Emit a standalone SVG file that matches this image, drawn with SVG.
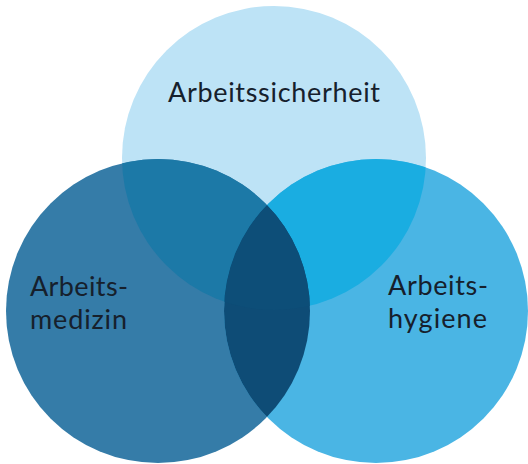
<svg xmlns="http://www.w3.org/2000/svg" width="528" height="464" viewBox="0 0 528 464">
<style>
.lbl{font-family:Lato,"Open Sans","Liberation Sans",sans-serif;font-size:27px;fill:#16202c}
</style>
<defs>
<clipPath id="cTop"><circle cx="274" cy="158" r="152"/></clipPath>
<clipPath id="cLeft"><circle cx="158" cy="311" r="152"/></clipPath>
<clipPath id="cRight"><circle cx="376" cy="311" r="152"/></clipPath>
</defs>
<rect width="528" height="464" fill="#ffffff"/>
<g id="node-arbeitssicherheit">
<circle cx="274" cy="158" r="152" fill="#bde3f6"/>
</g>
<g id="node-arbeitsmedizin">
<circle cx="158" cy="311" r="152" fill="#357ca8"/>
</g>
<g id="node-arbeitshygiene">
<circle cx="376" cy="311" r="152" fill="#4ab5e4"/>
</g>
<g id="overlaps">
<g clip-path="url(#cTop)"><circle cx="158" cy="311" r="152" fill="#1c79a7"/></g>
<g clip-path="url(#cTop)"><circle cx="376" cy="311" r="152" fill="#1aade1"/></g>
<g clip-path="url(#cLeft)"><circle cx="376" cy="311" r="152" fill="#0e4c76"/></g>
<g clip-path="url(#cLeft)"><g clip-path="url(#cTop)"><circle cx="376" cy="311" r="152" fill="#0d4e78"/></g></g>
</g>
<g id="labels">
<text class="lbl" x="168" y="102" textLength="212">Arbeitssicherheit</text>
<text class="lbl" x="30" y="296" textLength="98">Arbeits-</text>
<text class="lbl" x="30" y="329" textLength="97">medizin</text>
<text class="lbl" x="388" y="295" textLength="100">Arbeits-</text>
<text class="lbl" x="388" y="328" textLength="99">hygiene</text>
</g>
<g id="connectors"></g>
</svg>
